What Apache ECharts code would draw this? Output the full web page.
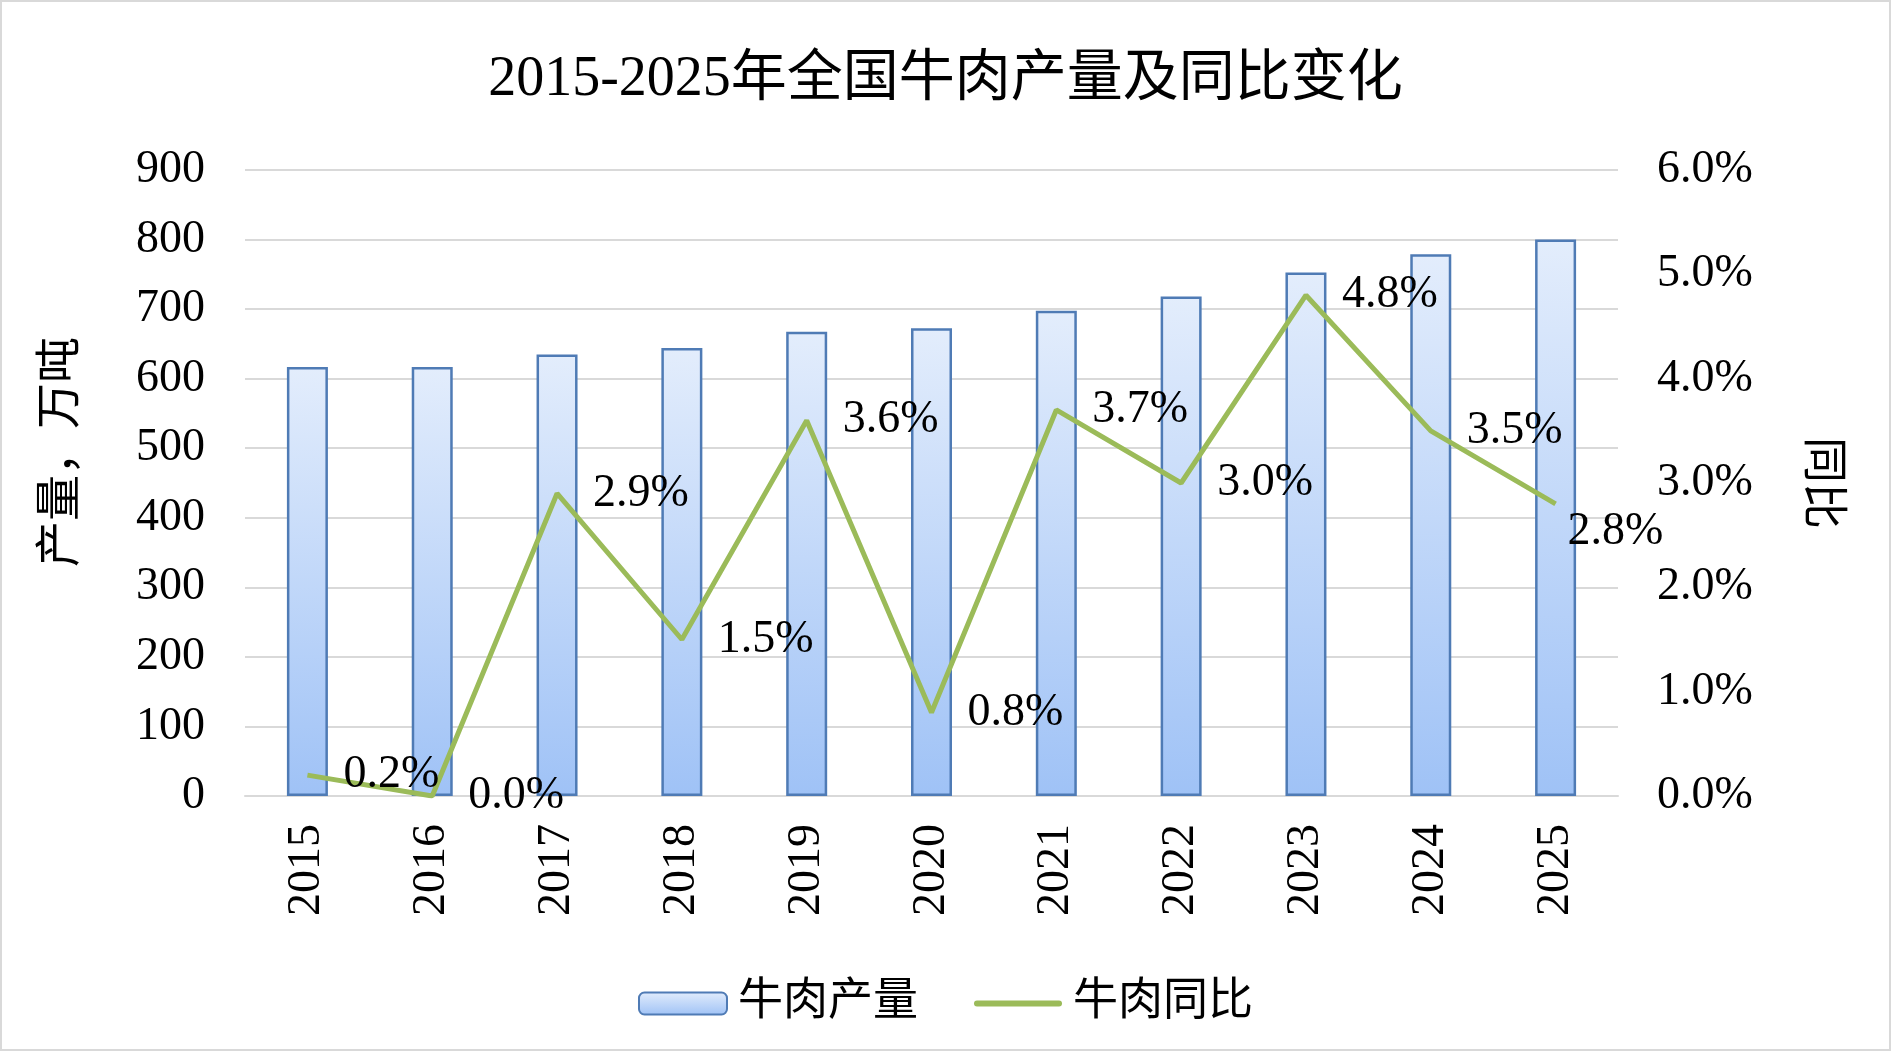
<!DOCTYPE html>
<html><head><meta charset="utf-8">
<script src="https://cdn.jsdelivr.net/npm/echarts@6/dist/echarts.min.js"></script>
<style>html,body{margin:0;padding:0;background:#fff}#c{width:1891px;height:1051px}</style>
</head><body><div id="c"></div>
<script>
const years = ['2015','2016','2017','2018','2019','2020','2021','2022','2023','2024','2025'];
const production = [616.9, 616.9, 634.6, 644.1, 667.3, 672.5, 697.5, 718.3, 752.7, 779.0, 800.0];
const yoy = [0.2, 0.0, 2.9, 1.5, 3.6, 0.8, 3.7, 3.0, 4.8, 3.5, 2.8];
const leftTicks = [0, 900, 100];
const rightTicks = [0, 6, 1];

const FONT = '"Liberation Serif", "Noto Sans CJK SC", serif';
const chart = echarts.init(document.getElementById('c'));
const barFill = new echarts.graphic.LinearGradient(0, 0, 0, 1, [
  {offset: 0, color: '#e3edfc'},
  {offset: 1, color: '#9fc2f6'}
]);
chart.setOption({
  backgroundColor: '#fff',
  textStyle: {fontFamily: FONT, color: '#000'},
  graphic: [{type: 'rect', shape: {x: 1, y: 1, width: 1889, height: 1049}, style: {fill: 'none', stroke: '#d9d9d9', lineWidth: 2}}],
  title: {
    text: '2015-2025年全国牛肉产量及同比变化',
    left: 'center', top: 44,
    textStyle: {fontFamily: FONT, fontSize: 56, fontWeight: 'normal', color: '#000', lineHeight: 62}
  },
  legend: {
    left: 'center', top: 976,
    itemWidth: 88, itemHeight: 22, itemGap: 56,
    textStyle: {fontFamily: FONT, fontSize: 45, color: '#000', padding: [0, 0, 0, 6]},
    data: [
      {name: '牛肉产量'},
      {name: '牛肉同比', icon: 'path://M3,0 L85,0 A3,3 0 0 1 85,6 L3,6 A3,3 0 0 1 3,0 Z'}
    ]
  },
  grid: {left: 245, right: 273, top: 170, bottom: 255, containLabel: false},
  xAxis: {
    type: 'category', data: years,
    axisLine: {lineStyle: {color: '#d9d9d9', width: 2}},
    axisTick: {show: false},
    axisLabel: {rotate: 90, margin: 28, fontSize: 46, color: '#000', fontFamily: FONT}
  },
  yAxis: [{
    type: 'value', min: leftTicks[0], max: leftTicks[1], interval: leftTicks[2],
    name: '产量，万吨', nameLocation: 'middle', nameGap: 160, nameRotate: 90,
    nameTextStyle: {fontSize: 46, color: '#000', fontFamily: FONT, padding: [0, 0, 0, 62]},
    axisLine: {show: false}, axisTick: {show: false},
    axisLabel: {margin: 40, fontSize: 46, color: '#000', fontFamily: FONT},
    splitLine: {lineStyle: {color: '#d9d9d9', width: 2}}
  }, {
    type: 'value', min: rightTicks[0], max: rightTicks[1], interval: rightTicks[2], position: 'right',
    name: '同比', nameLocation: 'middle', nameGap: 180, nameRotate: -90,
    nameTextStyle: {fontSize: 46, color: '#000', fontFamily: FONT},
    axisLine: {show: false}, axisTick: {show: false},
    axisLabel: {margin: 39, fontSize: 46, color: '#000', fontFamily: FONT, formatter: v => v.toFixed(1) + '%'},
    splitLine: {show: false}
  }],
  series: [{
    name: '牛肉产量', type: 'bar', data: production, barWidth: 41,
    itemStyle: {color: barFill, borderColor: '#4f7bb5', borderWidth: 2.5},
    z: 2
  }, {
    name: '牛肉同比', type: 'line', yAxisIndex: 1,
    symbol: 'circle', symbolSize: 0.01, showSymbol: true,
    lineStyle: {color: '#9bbb59', width: 5},
    itemStyle: {color: '#9bbb59'},
    data: yoy.map((v, i) => i === yoy.length - 1
      ? {value: v, label: {position: [12, 28], align: 'left', verticalAlign: 'middle'}}
      : v),
    label: {
      show: true, position: 'right', distance: 36, offset: [0, 4],
      fontSize: 46, color: '#000', fontFamily: FONT,
      formatter: p => p.value.toFixed(1) + '%'
    },
    labelLayout: {hideOverlap: false},
    z: 3
  }]
});
</script></body></html>
